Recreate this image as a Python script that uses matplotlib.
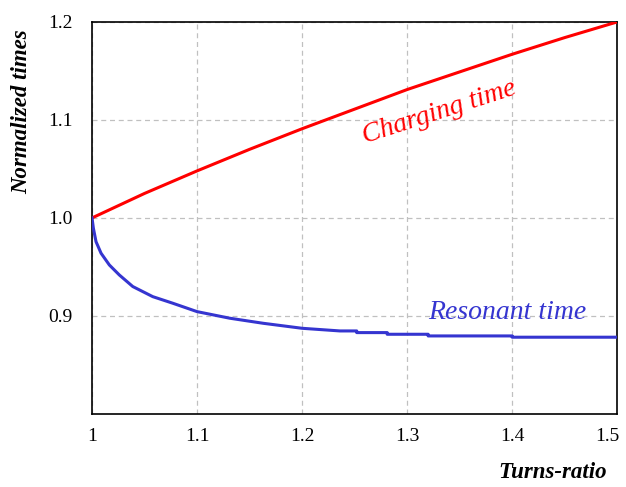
import matplotlib
matplotlib.use("Agg")
import matplotlib.pyplot as plt
from matplotlib.transforms import ScaledTranslation

plt.rcParams["font.family"] = ["Liberation Serif", "DejaVu Serif"]

# charging time (red)
x_charge = [1.0, 1.05, 1.1, 1.15, 1.2, 1.25, 1.3, 1.35, 1.4, 1.45, 1.5]
y_charge = [1.0, 1.025, 1.048, 1.070, 1.091, 1.111, 1.131, 1.149, 1.167, 1.184, 1.2]

# resonant time (blue)
x_reson = [1.0, 1.0013, 1.0038, 1.0086, 1.0165, 1.026, 1.0388, 1.0578, 1.0768, 1.1, 1.131,
           1.163, 1.2, 1.236, 1.252, 1.252, 1.281, 1.281, 1.32, 1.32, 1.4, 1.4, 1.5]
y_reson = [1.0, 0.9895, 0.9758, 0.964, 0.952, 0.9418, 0.93, 0.9197, 0.913, 0.9044, 0.8977,
           0.8925, 0.8874, 0.8847, 0.8847, 0.883, 0.883, 0.8813, 0.8813, 0.8796, 0.8796, 0.8783, 0.8783]

x_ticks = [1.0, 1.1, 1.2, 1.3, 1.4, 1.5]
x_labels = ["1", "1.1", "1.2", "1.3", "1.4", "1.5"]
y_ticks = [0.9, 1.0, 1.1, 1.2]
y_labels = ["0.9", "1.0", "1.1", "1.2"]

fig = plt.figure(figsize=(6.26, 4.87), dpi=100)
ax = fig.add_axes([0.147, 0.150, 0.839, 0.805])

ax.plot(x_charge, y_charge, color="#ff0000", lw=2.2, zorder=3)
ax.plot(x_reson, y_reson, color="#3535d0", lw=2.2, zorder=3)

ax.set_xlim(1.0, 1.5)
ax.set_ylim(0.8, 1.2)
ax.set_xticks(x_ticks)
ax.set_xticklabels(x_labels)
ax.set_yticks(y_ticks)
ax.set_yticklabels(y_labels)
ax.tick_params(length=0, labelsize=14)
ax.tick_params(axis="y", pad=14)
ax.tick_params(axis="x", pad=10)
ax.grid(True, color="#c0c0c0", linestyle=(0, (4, 3)), lw=0.9)
for s in ax.spines.values():
    s.set_linewidth(1.2)

# last x label sits a bit left so it stays inside the figure
last = ax.get_xticklabels()[-1]
last.set_transform(last.get_transform() + ScaledTranslation(-0.1, 0, fig.dpi_scale_trans))

fig.text(0.035, 0.77, "Normalized times", rotation=90, ha="center", va="center",
         fontsize=16.5, fontweight="bold", fontstyle="italic")
fig.text(0.97, 0.03, "Turns-ratio", ha="right", va="center",
         fontsize=16.5, fontweight="bold", fontstyle="italic")

ax.text(1.3305, 1.108, "Charging time", color="#ff0000", fontsize=20,
        fontstyle="italic", rotation=18, ha="center", va="center")
ax.text(1.3955, 0.904, "Resonant time", color="#3535d0", fontsize=20,
        fontstyle="italic", ha="center", va="center")

fig.savefig("out.png", dpi=100)
